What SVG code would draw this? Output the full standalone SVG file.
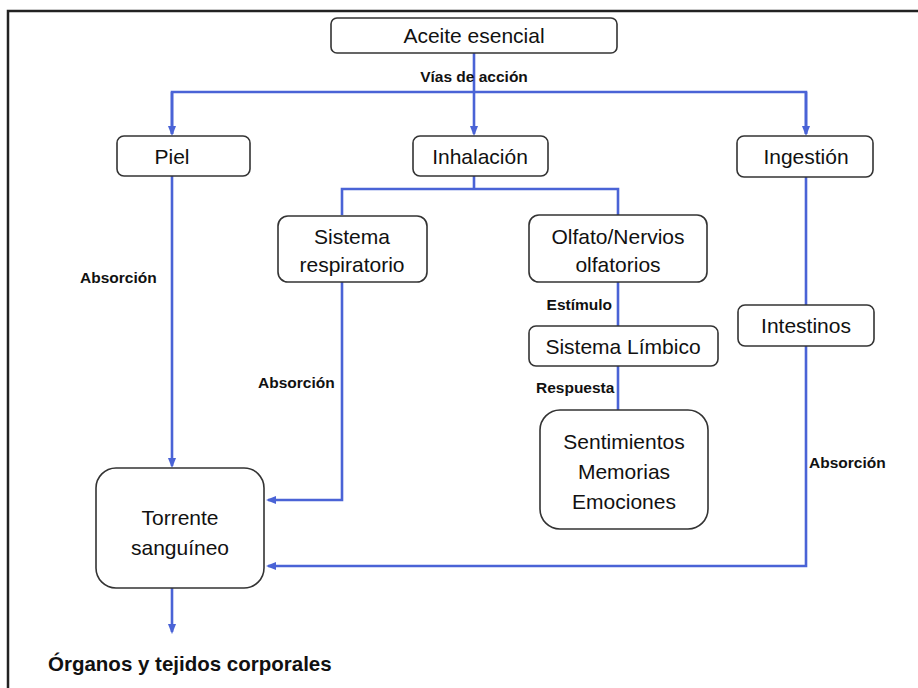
<svg xmlns="http://www.w3.org/2000/svg" width="918" height="688" viewBox="0 0 918 688">
<defs>
<marker id="ah" viewBox="0 0 10 10" refX="8" refY="5" markerWidth="4" markerHeight="4" orient="auto-start-reverse" markerUnits="strokeWidth">
<path d="M0,1 L10,5 L0,9 z" fill="#4a63d6"/>
</marker>
<style>
.bx{fill:#fff;stroke:#333;stroke-width:1.6}
.t{font-family:"Liberation Sans",Arial,sans-serif;font-size:21px;fill:#111;text-anchor:middle}
.lb{font-family:"Liberation Sans",Arial,sans-serif;font-size:15.5px;font-weight:bold;fill:#111}
.c{fill:none;stroke:#4a63d6;stroke-width:2.6}
.ca{fill:none;stroke:#4a63d6;stroke-width:2.6;marker-end:url(#ah)}
</style>
</defs>
<rect x="0" y="0" width="918" height="688" fill="#fff"/>
<path d="M8,688 L8,11 L918,11" fill="none" stroke="#222" stroke-width="2.5"/>

<g id="connectors">
<path class="c" d="M474,53 V92"/>
<path class="ca" d="M474,92 V134"/>
<path class="c" d="M172,134 V92 H806 V134"/>
<path class="ca" d="M172,92 V134"/>
<path class="ca" d="M806,92 V134"/>
<path class="c" d="M474,176 V189 M342,215 V189 H618 V215"/>
<path class="ca" d="M172,176 V466"/>
<path class="ca" d="M342,282 V500 H268"/>
<path class="c" d="M618,282 V326 M618,366 V410"/>
<path class="c" d="M806,177 V305"/>
<path class="ca" d="M806,346 V566 H268"/>
<path class="ca" d="M172,588 V632"/>
</g>

<g id="aceite"><rect class="bx" x="331" y="18" width="286" height="35" rx="6"/><text class="t" x="474" y="43">Aceite esencial</text></g>
<text class="lb" x="474" y="82" text-anchor="middle">Vías de acción</text>

<g id="piel"><rect class="bx" x="117" y="136" width="133" height="40" rx="7"/><text class="t" x="172" y="164">Piel</text></g>
<g id="inhalacion"><rect class="bx" x="413" y="136" width="135" height="40" rx="7"/><text class="t" x="480" y="164">Inhalación</text></g>
<g id="ingestion"><rect class="bx" x="737" y="136" width="136" height="41" rx="7"/><text class="t" x="806" y="164">Ingestión</text></g>

<g id="respiratorio"><rect class="bx" x="278" y="216" width="149" height="66" rx="10"/><text class="t" x="352" y="244">Sistema</text><text class="t" x="352" y="272">respiratorio</text></g>
<g id="olfato"><rect class="bx" x="529" y="215" width="178" height="67" rx="10"/><text class="t" x="618" y="244">Olfato/Nervios</text><text class="t" x="618" y="272">olfatorios</text></g>

<text class="lb" x="80" y="283">Absorción</text>
<text class="lb" x="612" y="310" text-anchor="end">Estímulo</text>

<g id="limbico"><rect class="bx" x="529" y="326" width="189" height="40" rx="7"/><text class="t" x="623" y="354">Sistema Límbico</text></g>
<g id="intestinos"><rect class="bx" x="738" y="305" width="136" height="41" rx="7"/><text class="t" x="806" y="333">Intestinos</text></g>

<text class="lb" x="258" y="388">Absorción</text>
<text class="lb" x="536" y="393">Respuesta</text>

<g id="sentimientos"><rect class="bx" x="540" y="410" width="168" height="119" rx="20"/><text class="t" x="624" y="449">Sentimientos</text><text class="t" x="624" y="479">Memorias</text><text class="t" x="624" y="509">Emociones</text></g>
<text class="lb" x="809" y="468">Absorción</text>

<g id="torrente"><rect class="bx" x="96" y="468" width="168" height="120" rx="20"/><text class="t" x="180" y="525">Torrente</text><text class="t" x="180" y="555">sanguíneo</text></g>

<text x="48" y="671" font-family="Liberation Sans,Arial,sans-serif" font-size="20.5" font-weight="bold" fill="#111">Órganos y tejidos corporales</text>
</svg>
